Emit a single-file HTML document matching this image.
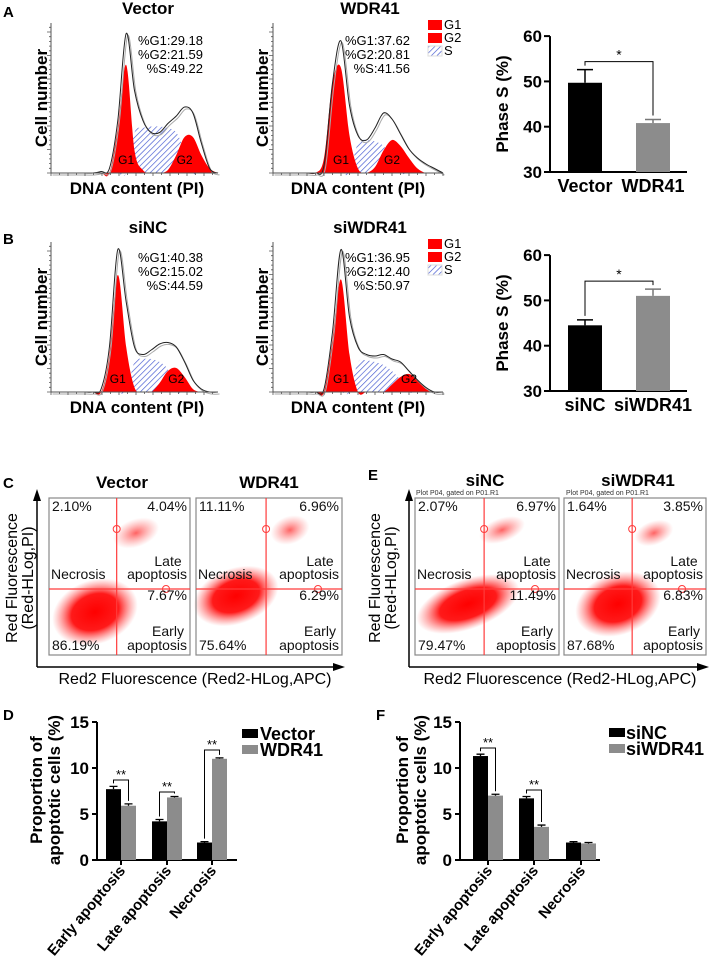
<!DOCTYPE html>
<html><head><meta charset="utf-8"><style>
html,body{margin:0;padding:0;background:#fff;}
svg{display:block;font-family:"Liberation Sans",Arial,sans-serif;}
.b{font-weight:bold;}
</style></head><body>
<svg id="fig" width="709" height="966" viewBox="0 0 709 966" xmlns="http://www.w3.org/2000/svg">
<defs>
<pattern id="hatch" patternUnits="userSpaceOnUse" width="4" height="4" patternTransform="rotate(45)">
<rect width="4" height="4" fill="#fff"/>
<line x1="0" y1="0" x2="0" y2="4" stroke="#3f55d0" stroke-width="1.3"/>
</pattern>
<radialGradient id="cloud"><stop offset="0" stop-color="#ff0000" stop-opacity="1"/><stop offset="0.55" stop-color="#ff0000" stop-opacity="0.9"/><stop offset="0.8" stop-color="#ff3030" stop-opacity="0.4"/><stop offset="1" stop-color="#ff5050" stop-opacity="0"/></radialGradient>
<radialGradient id="cloud2"><stop offset="0" stop-color="#ff2020" stop-opacity="0.7"/><stop offset="1" stop-color="#ff6060" stop-opacity="0"/></radialGradient>
</defs>

<text x="3" y="17" class="b" font-size="15">A</text>
<text x="3" y="244" class="b" font-size="15">B</text>
<text x="3" y="488" class="b" font-size="15">C</text>
<text x="368" y="480" class="b" font-size="15">E</text>
<text x="3" y="720" class="b" font-size="15">D</text>
<text x="376" y="720" class="b" font-size="15">F</text>

<text x="148" y="14" class="b" font-size="17" text-anchor="middle">Vector</text>
<text x="370" y="14" class="b" font-size="17" text-anchor="middle">WDR41</text>
<text x="148" y="233" class="b" font-size="17" text-anchor="middle">siNC</text>
<text x="370" y="233" class="b" font-size="17" text-anchor="middle">siWDR41</text>

<g font-size="13" text-anchor="end">
<text x="203" y="45">%G1:29.18</text><text x="203" y="59">%G2:21.59</text><text x="203" y="73">%S:49.22</text></g>
<g font-size="13" text-anchor="end">
<text x="410" y="45">%G1:37.62</text><text x="410" y="59">%G2:20.81</text><text x="410" y="73">%S:41.56</text></g>
<g font-size="13" text-anchor="end">
<text x="203" y="262">%G1:40.38</text><text x="203" y="276">%G2:15.02</text><text x="203" y="290">%S:44.59</text></g>
<g font-size="13" text-anchor="end">
<text x="410" y="262">%G1:36.95</text><text x="410" y="276">%G2:12.40</text><text x="410" y="290">%S:50.97</text></g>

<g font-size="13">
<rect x="428" y="20" width="14" height="10" fill="#f00"/><text x="444" y="29">G1</text>
<rect x="428" y="33" width="14" height="10" fill="#f00"/><text x="444" y="42">G2</text>
<rect x="428" y="46" width="14" height="10" fill="url(#hatch)" stroke="#ddd"/><text x="444" y="55">S</text></g>
<g font-size="13">
<rect x="428" y="239" width="14" height="10" fill="#f00"/><text x="444" y="248">G1</text>
<rect x="428" y="252" width="14" height="10" fill="#f00"/><text x="444" y="261">G2</text>
<rect x="428" y="265" width="14" height="10" fill="url(#hatch)" stroke="#ddd"/><text x="444" y="274">S</text></g>

<text transform="translate(47,98) rotate(-90)" class="b" font-size="17" text-anchor="middle">Cell number</text>
<text transform="translate(268,98) rotate(-90)" class="b" font-size="17" text-anchor="middle">Cell number</text>
<text transform="translate(47,317) rotate(-90)" class="b" font-size="17" text-anchor="middle">Cell number</text>
<text transform="translate(268,317) rotate(-90)" class="b" font-size="17" text-anchor="middle">Cell number</text>
<text x="137" y="194" class="b" font-size="17" text-anchor="middle">DNA content (PI)</text>
<text x="358" y="194" class="b" font-size="17" text-anchor="middle">DNA content (PI)</text>
<text x="137" y="413" class="b" font-size="17" text-anchor="middle">DNA content (PI)</text>
<text x="358" y="413" class="b" font-size="17" text-anchor="middle">DNA content (PI)</text>

<text transform="translate(508,104) rotate(-90)" class="b" font-size="17" text-anchor="middle">Phase S (%)</text>
<text transform="translate(508,323) rotate(-90)" class="b" font-size="17" text-anchor="middle">Phase S (%)</text>
<g id="barA"></g>
<g id="barB"></g>
<g id="hists"></g>

<g id="flow"></g>
<text x="122" y="488" class="b" font-size="17" text-anchor="middle">Vector</text>
<text x="269" y="488" class="b" font-size="17" text-anchor="middle">WDR41</text>
<text x="485" y="486" class="b" font-size="17" text-anchor="middle">siNC</text>
<text x="638" y="486" class="b" font-size="17" text-anchor="middle">siWDR41</text>
<text x="416" y="495" font-size="7" fill="#333">Plot P04, gated on P01.R1</text>
<text x="566" y="495" font-size="7" fill="#333">Plot P04, gated on P01.R1</text>
<text x="195" y="684" font-size="16" text-anchor="middle">Red2 Fluorescence (Red2-HLog,APC)</text>
<text x="560" y="684" font-size="16" text-anchor="middle">Red2 Fluorescence (Red2-HLog,APC)</text>
<g font-size="16" text-anchor="middle">
<text transform="translate(17,578) rotate(-90)">Red Fluorescence</text>
<text transform="translate(33,578) rotate(-90)">(Red-HLog,PI)</text></g>
<g font-size="16" text-anchor="middle">
<text transform="translate(380,578) rotate(-90)">Red Fluorescence</text>
<text transform="translate(396,578) rotate(-90)">(Red-HLog,PI)</text></g>

<g class="b" font-size="17" text-anchor="middle">
<text transform="translate(42,790) rotate(-90)">Proportion of</text>
<text transform="translate(60,790) rotate(-90)">apoptotic cells (%)</text></g>
<g class="b" font-size="17" text-anchor="middle">
<text transform="translate(408,790) rotate(-90)">Proportion of</text>
<text transform="translate(426,790) rotate(-90)">apoptotic cells (%)</text></g>
<g id="barD"></g>
<g id="barF"></g>
<g class="b" font-size="18">
<rect x="242" y="729" width="16" height="9" fill="#000"/><text x="260" y="740">Vector</text>
<rect x="242" y="745" width="16" height="9" fill="#8c8c8c"/><text x="260" y="756">WDR41</text></g>
<g class="b" font-size="18">
<rect x="609" y="728" width="16" height="9" fill="#000"/><text x="626" y="739">siNC</text>
<rect x="609" y="744" width="16" height="9" fill="#8c8c8c"/><text x="626" y="755">siWDR41</text></g>
</svg>
<script>
// ---------- DATA ----------
const histU = [0,5,10,15,20,25,30,35,40,45,50,55,60,65,70,75,80,85,90,95,100];
const vecOutline = [0,0,0,0,0,0,0.01,0.03,0.35,0.93,0.55,0.35,0.27,0.27,0.33,0.38,0.44,0.4,0.2,0.03,0];
const vecG1 =      [0,0,0,0,0,0,0,0,0.3,0.72,0.15,0.02,0,0,0,0,0,0,0,0,0];
const vecG2 =      [0,0,0,0,0,0,0,0,0,0,0,0,0,0,0.02,0.12,0.24,0.24,0.12,0.03,0];
const vecS =       [0,0,0,0,0,0,0,0,0,0,0.27,0.3,0.31,0.31,0.3,0.27,0.15,0,0,0,0];
const wdrOutline = [0,0,0,0,0,0,0.05,0.6,0.88,0.45,0.25,0.22,0.3,0.4,0.36,0.26,0.16,0.1,0.06,0.03,0];
const wdrG1 =      [0,0,0,0,0,0,0.1,0.6,0.7,0.25,0.03,0,0,0,0,0,0,0,0,0,0];
const wdrG2 =      [0,0,0,0,0,0,0,0,0,0,0,0,0.04,0.15,0.22,0.18,0.1,0.03,0,0,0];
const wdrS =       [0,0,0,0,0,0,0,0,0,0,0.2,0.22,0.21,0.18,0.1,0,0,0,0,0,0];
const sincOutline =[0,0,0,0,0,0,0.02,0.3,0.95,0.6,0.3,0.25,0.28,0.32,0.33,0.3,0.2,0.08,0.02,0,0];
const sincG1 =     [0,0,0,0,0,0,0,0.25,0.78,0.3,0.03,0,0,0,0,0,0,0,0,0,0];
const sincG2 =     [0,0,0,0,0,0,0,0,0,0,0,0,0,0.06,0.14,0.16,0.1,0.02,0,0,0];
const sincS =      [0,0,0,0,0,0,0,0,0,0,0.2,0.22,0.22,0.2,0.15,0,0,0,0,0,0];
const siwOutline = [0,0,0,0,0,0,0.02,0.4,0.95,0.5,0.3,0.25,0.24,0.25,0.22,0.2,0.14,0.08,0.03,0,0];
const siwG1 =      [0,0,0,0,0,0,0,0.35,0.75,0.25,0,0,0,0,0,0,0,0,0,0,0];
const siwG2 =      [0,0,0,0,0,0,0,0,0,0,0,0,0,0,0.05,0.1,0.12,0.08,0.02,0,0];
const siwS =       [0,0,0,0,0,0,0,0,0,0,0.2,0.21,0.2,0.18,0.14,0.08,0,0,0,0,0];

const phaseTicks = [30,40,50,60];
const phaseACats = ["Vector","WDR41"];
const phaseAVals = [49.7,40.8];
const phaseAErr = [2.9,0.8];
const phaseBCats = ["siNC","siWDR41"];
const phaseBVals = [44.5,51.0];
const phaseBErr = [1.2,1.5];

const apoCats = ["Early apoptosis","Late apoptosis","Necrosis"];
const apoTicks = [0,5,10,15];
const dVector = [7.7,4.2,1.9];
const dVectorErr = [0.3,0.2,0.1];
const dWDR41 = [5.9,6.8,11.0];
const dWDR41Err = [0.2,0.1,0.1];
const fSiNC = [11.3,6.7,1.9];
const fSiNCErr = [0.2,0.2,0.1];
const fSiWDR41 = [7.0,3.6,1.8];
const fSiWDR41Err = [0.15,0.2,0.1];

const flowNames = ["vector","wdr41","sinc","siwdr41"];
const flowUL = ["2.10%","11.11%","2.07%","1.64%"];
const flowUR = ["4.04%","6.96%","6.97%","3.85%"];
const flowLR = ["7.67%","6.29%","11.49%","6.83%"];
const flowLL = ["86.19%","75.64%","79.47%","87.68%"];

const NS="http://www.w3.org/2000/svg";
function mk(parent,tag,attrs){const e=document.createElementNS(NS,tag);for(const k in attrs)e.setAttribute(k,attrs[k]);parent.appendChild(e);return e;}
function smooth(pts){let d="M"+pts[0][0]+","+pts[0][1];for(let i=0;i<pts.length-1;i++){const p0=pts[Math.max(0,i-1)],p1=pts[i],p2=pts[i+1],p3=pts[Math.min(pts.length-1,i+2)];const c1x=p1[0]+(p2[0]-p0[0])/6,c1y=p1[1]+(p2[1]-p0[1])/6,c2x=p2[0]-(p3[0]-p1[0])/6,c2y=p2[1]-(p3[1]-p1[1])/6;d+=` C${c1x.toFixed(1)},${c1y.toFixed(1)} ${c2x.toFixed(1)},${c2y.toFixed(1)} ${p2[0].toFixed(1)},${p2[1].toFixed(1)}`;}return d;}

const hg=document.getElementById('hists');
function drawHist(name,ox,oy,w,h,outline,g1,g2,s){
  const g=mk(hg,'g',{});
  
  
  const xs=u=>ox+u/100*w, ys=f=>oy-f*h;
  const area=(arr)=>{const pts=histU.map((u,i)=>[xs(u),Math.min(oy,ys(arr[i]))]);return smooth(pts)+` L${xs(100)},${oy} L${xs(0)},${oy} Z`;};
  const sp=mk(g,'path',{d:area(s),fill:'url(#hatch)'});
  
  
  const p1=mk(g,'path',{d:area(g1),fill:'#f00'});
  
  
  const p2=mk(g,'path',{d:area(g2),fill:'#f00'});
  
  
  const ptsO=histU.map((u,i)=>[xs(u),ys(outline[i])]);
  const o2=mk(g,'path',{d:smooth(ptsO.map(p=>[p[0]+1.5,p[1]+2])),fill:'none',stroke:'#aaa','stroke-width':1});
  
  
  const o=mk(g,'path',{d:smooth(ptsO),fill:'none',stroke:'#222','stroke-width':1});
  
  
  const ax=mk(g,'path',{d:`M${ox},${oy-h} L${ox},${oy} L${ox+w},${oy}`,fill:'none',stroke:'#555','stroke-width':1});
  
  
  let t="";for(let y=oy;y>=oy-h;y-=4.7){t+=`M${ox},${y.toFixed(1)} h${(Math.round((oy-y)/4.7)%5==0)?-4:-2} `;}
  for(let x=ox;x<=ox+w;x+=8.5){t+=`M${x.toFixed(1)},${oy} v${(Math.round((x-ox)/8.5)%2==0)?3:2} `;}
  const tk=mk(g,'path',{d:t,stroke:'#555','stroke-width':0.8,fill:'none'});
  
  
  const gi=g1.indexOf(Math.max(...g1)), g2i=g2.indexOf(Math.max(...g2));
  const l1=mk(g,'text',{x:xs(histU[gi]),y:oy-9,'font-size':12,'text-anchor':'middle'});l1.textContent='G1';
  
  
  const l2=mk(g,'text',{x:xs(histU[g2i]),y:oy-9,'font-size':12,'text-anchor':'middle'});l2.textContent='G2';
  
  
}
drawHist('vector',51,173,167,150,vecOutline,vecG1,vecG2,vecS);
drawHist('wdr41',273,173,170,150,wdrOutline,wdrG1,wdrG2,wdrS);
drawHist('sinc',51,392,167,150,sincOutline,sincG1,sincG2,sincS);
drawHist('siwdr41',273,392,170,150,siwOutline,siwG1,siwG2,siwS);

function drawPhase(id,oy,cats,vals,errs){
  const g=document.getElementById(id);
  const ax0=550, yv=v=>oy-(v-30)*4.53, cx=i=>585+i*68;
  const ax=mk(g,'path',{d:`M${ax0},${yv(60)} V${oy} H687`,stroke:'#000','stroke-width':2,fill:'none'});
  
  
  phaseTicks.forEach(v=>{
    const tk=mk(g,'line',{x1:ax0-6,x2:ax0,y1:yv(v),y2:yv(v),stroke:'#000','stroke-width':2});
    
    
    const tl=mk(g,'text',{x:ax0-8,y:yv(v)+6,'font-size':17,'font-weight':'bold','text-anchor':'end'});tl.textContent=v;
    
    
  });
  vals.forEach((v,i)=>{
    const r=mk(g,'rect',{x:cx(i)-17,y:yv(v),width:34,height:oy-yv(v),fill:i?'#8c8c8c':'#000'});
    
    
    const e=mk(g,'path',{d:`M${cx(i)},${yv(v)} V${yv(v+errs[i])} M${cx(i)-8},${yv(v+errs[i])} H${cx(i)+8}`,stroke:i?'#777':'#000','stroke-width':1.5,fill:'none'});
    
    
    const l=mk(g,'text',{x:cx(i),y:oy+20,'font-size':18,'font-weight':'bold','text-anchor':'middle'});l.textContent=cats[i];
    
    
  });
  const top=Math.min(yv(vals[0]+errs[0]),yv(vals[1]+errs[1]))-8;
  const br=mk(g,'path',{d:`M${cx(0)},${yv(vals[0]+errs[0])-4} V${top} H${cx(1)} V${yv(vals[1]+errs[1])-4}`,stroke:'#000','stroke-width':1,fill:'none'});
  
  
  const st=mk(g,'text',{x:(cx(0)+cx(1))/2,y:top-2,'font-size':14,'text-anchor':'middle'});st.textContent='*';
  
  
}
drawPhase('barA',172,phaseACats,phaseAVals,phaseAErr);
drawPhase('barB',391,phaseBCats,phaseBVals,phaseBErr);

const fg=document.getElementById('flow');
const boxes=[[49,190],[196,342],[415,559],[564,706]];
const clouds=[[[95,612,44,32],[136,533,24,14]],[[236,596,44,28],[290,530,20,14]],[[468,604,54,25],[502,530,24,12]],[[618,604,44,31],[654,533,20,12]]];
boxes.forEach((b,i)=>{
  const L=b[0],R=b[1],T=498,B=655,qx=L+(R-L)*0.48,qy=589;
  const g=mk(fg,'g',{});
  
  
  clouds[i].forEach((c,j)=>{
    const el=mk(g,'ellipse',{cx:c[0],cy:c[1],rx:c[2],ry:c[3],fill:j?'url(#cloud2)':'url(#cloud)',transform:`rotate(-20 ${c[0]} ${c[1]})`});
    
    
  });
  const bx=mk(g,'rect',{x:L,y:T,width:R-L,height:B-T,fill:'none',stroke:'#888','stroke-width':1.2});
  
  
  const ql=mk(g,'path',{d:`M${qx},${T} V${B} M${L},${qy} H${R}`,stroke:'#ff3b3b','stroke-width':1.2,fill:'none'});
  
  
  const c1=mk(g,'circle',{cx:qx,cy:529,r:3.5,fill:'none',stroke:'#ff3b3b'});
  
  
  const c2=mk(g,'circle',{cx:R-24,cy:qy,r:3.5,fill:'none',stroke:'#ff3b3b'});
  
  
  const T_=(x,y,a,s,n)=>{const t=mk(g,'text',{x:x,y:y,'font-size':14,'text-anchor':a,fill:'#111'});t.textContent=s;};
  T_(L+3,T+13,'start',flowUL[i],'ul-percent');
  T_(R-3,T+13,'end',flowUR[i],'ur-percent');
  T_(R-22,566,'middle','Late','late-apoptosis-label');
  T_(R-3,579,'end','apoptosis','late-apoptosis-label');
  T_(L+2,579,'start','Necrosis','necrosis-label');
  T_(R-3,600,'end',flowLR[i],'lr-percent');
  T_(R-22,636,'middle','Early','early-apoptosis-label');
  T_(R-3,650,'end','apoptosis','early-apoptosis-label');
  T_(L+3,650,'start',flowLL[i],'ll-percent');
});
[[37,345],[409,709]].forEach((a,i)=>{
  const ar=mk(fg,'path',{d:`M${a[0]},667 H${a[1]-10} M${a[0]},667 V500`,stroke:'#000','stroke-width':1.5,fill:'none'});
  
  
  const h1=mk(fg,'path',{d:`M${a[1]},667 l-12,-4 v8 Z M${a[0]},489 l-4,12 h8 Z`,fill:'#000'});
  
  
});

function drawApo(id,ax0,centers,s1,e1,s2,e2,brTops){
  const g=document.getElementById(id);
  const oy=860,yv=v=>oy-v*9.2,bw=15;
  const ax=mk(g,'path',{d:`M${ax0},${yv(15)} V${oy} H${ax0+140}`,stroke:'#000','stroke-width':2,fill:'none'});
  
  
  apoTicks.forEach(v=>{
    const tk=mk(g,'line',{x1:ax0-5,x2:ax0,y1:yv(v),y2:yv(v),stroke:'#000','stroke-width':2});
    
    
    const tl=mk(g,'text',{x:ax0-8,y:yv(v)+6,'font-size':17,'font-weight':'bold','text-anchor':'end'});tl.textContent=v;
    
    
  });
  apoCats.forEach((c,i)=>{
    const cx=centers[i];
    [[s1,e1,'#000',cx-bw],[s2,e2,'#8c8c8c',cx]].forEach((s,k)=>{
      const v=s[0][i],er=s[1][i];
      const r=mk(g,'rect',{x:s[3],y:yv(v),width:bw,height:oy-yv(v),fill:s[2]});
      
      
      const e=mk(g,'path',{d:`M${s[3]+bw/2},${yv(v)} V${yv(v+er)} M${s[3]+bw/2-4},${yv(v+er)} H${s[3]+bw/2+4}`,stroke:'#000','stroke-width':1.3});
      
      
    });
    const tk=mk(g,'line',{x1:cx,x2:cx,y1:oy,y2:oy+5,stroke:'#000','stroke-width':2});
    
    
    const l=mk(g,'text',{x:0,y:0,'font-size':15,'font-weight':'bold','text-anchor':'end',transform:`translate(${cx+5},${oy+11}) rotate(-50)`});l.textContent=c;
    
    
    if(brTops[i]!==null){
      const top=brTops[i];
      const x1=cx-bw/2,x2=cx+bw/2;
      const b=mk(g,'path',{d:`M${x1},${yv(s1[i]+e1[i])-3} V${top} H${x2} V${yv(s2[i]+e2[i])-3}`,stroke:'#000','stroke-width':1,fill:'none'});
      
      
      const st=mk(g,'text',{x:cx,y:top-1,'font-size':13,'text-anchor':'middle'});st.textContent='**';
      
      
    }
  });
}
drawApo('barD',97,[121,167,212],dVector,dVectorErr,dWDR41,dWDR41Err,[780,792,750]);
drawApo('barF',460,[488,534,581],fSiNC,fSiNCErr,fSiWDR41,fSiWDR41Err,[748,790,null]);
</script>
</body></html>
